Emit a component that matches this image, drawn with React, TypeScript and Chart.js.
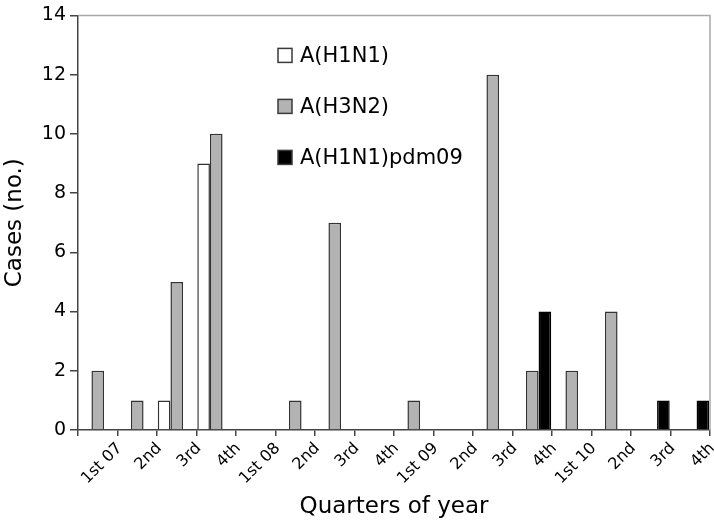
import React, { useEffect, useRef } from "react";
import { Chart, registerables } from "chart.js";

Chart.register(...registerables);

const quarters = [
  "1st 07", "2nd", "3rd", "4th",
  "1st 08", "2nd", "3rd", "4th",
  "1st 09", "2nd", "3rd", "4th",
  "1st 10", "2nd", "3rd", "4th",
];
const h1n1 = [0, 0, 1, 9, 0, 0, 0, 0, 0, 0, 0, 0, 0, 0, 0, 0];
const h3n2 = [2, 1, 5, 10, 0, 1, 7, 0, 1, 0, 12, 2, 2, 4, 0, 0];
const pdm09 = [0, 0, 0, 0, 0, 0, 0, 0, 0, 0, 0, 4, 0, 0, 1, 1];
const seriesNames = ["A(H1N1)", "A(H3N2)", "A(H1N1)pdm09"];
const yTicks = [0, 2, 4, 6, 8, 10, 12, 14];

const FONT = "'DejaVu Sans', 'Liberation Sans', Arial, sans-serif";

const frameAndLegend = {
  id: "frameAndLegend",
  afterDraw(chart: any) {
    const { ctx, chartArea } = chart;
    ctx.save();
    ctx.strokeStyle = "#a8a8a8";
    ctx.lineWidth = 1.5;
    ctx.beginPath();
    ctx.moveTo(chartArea.left, chartArea.top);
    ctx.lineTo(chartArea.right, chartArea.top);
    ctx.lineTo(chartArea.right, chartArea.bottom);
    ctx.stroke();
    const x0 = chartArea.left + 200;
    const y0 = chartArea.top + 40;
    const gap = 51;
    ctx.font = `21px ${FONT}`;
    ctx.textBaseline = "middle";
    ctx.textAlign = "left";
    chart.data.datasets.forEach((ds: any, i: number) => {
      const y = y0 + i * gap;
      ctx.fillStyle = ds.backgroundColor;
      ctx.fillRect(x0, y - 7, 14, 14);
      ctx.strokeStyle = "#3a3a3a";
      ctx.lineWidth = 1.5;
      ctx.strokeRect(x0, y - 7, 14, 14);
      ctx.fillStyle = "#000";
      ctx.fillText(ds.label, x0 + 22, y + 1);
    });
    ctx.restore();
  },
};

export default function App() {
  const ref = useRef<HTMLCanvasElement>(null);
  useEffect(() => {
    if (!ref.current) return;
    Chart.defaults.font.family = FONT;
    Chart.defaults.color = "#000";
    const bw = (c: any) => (c.raw ? 1.5 : 0);
    const chart = new Chart(ref.current, {
      type: "bar",
      data: {
        labels: quarters,
        datasets: [
          { label: seriesNames[0], data: h1n1, backgroundColor: "#ffffff", borderColor: "#333333", borderWidth: bw as any },
          { label: seriesNames[1], data: h3n2, backgroundColor: "#b3b3b3", borderColor: "#333333", borderWidth: bw as any },
          { label: seriesNames[2], data: pdm09, backgroundColor: "#000000", borderColor: "#000000", borderWidth: bw as any },
        ],
      },
      options: {
        responsive: false,
        animation: false,
        events: [],
        layout: { padding: { left: 0, right: 4, top: 14, bottom: 0 } },
        datasets: { bar: { categoryPercentage: 0.96, barPercentage: 1.0, borderSkipped: "start" } },
        plugins: { legend: { display: false }, tooltip: { enabled: false } },
        scales: {
          x: {
            grid: { offset: true, drawOnChartArea: false, tickLength: 6, color: "#444", lineWidth: 1.5 },
            border: { color: "#444", width: 1.5 },
            ticks: { font: { size: 16 }, maxRotation: 45, minRotation: 45, labelOffset: 22, padding: 3, autoSkip: false },
            title: { display: true, text: "Quarters of year", font: { size: 23 }, padding: { top: 0, bottom: 5 } },
            afterFit: (s: any) => { s.height = 96; },
          },
          y: {
            min: 0,
            max: 14,
            afterBuildTicks: (s: any) => { s.ticks = yTicks.map((v) => ({ value: v })); },
            grid: { drawOnChartArea: false, tickLength: 8, color: "#444", lineWidth: 1.5 },
            border: { color: "#444", width: 1.5 },
            ticks: { font: { size: 19 }, padding: 4 },
            title: { display: true, text: "Cases (no.)", font: { size: 23 }, padding: { top: 1, bottom: 0 } },
            afterFit: (s: any) => { s.width = 78; },
          },
        },
      },
      plugins: [frameAndLegend],
    });
    return () => chart.destroy();
  }, []);
  return (
    <div style={{ position: "absolute", left: 0, top: 0, width: 714, height: 526, background: "#fff" }}>
      <canvas ref={ref} width={714} height={526} style={{ display: "block" }} />
    </div>
  );
}
